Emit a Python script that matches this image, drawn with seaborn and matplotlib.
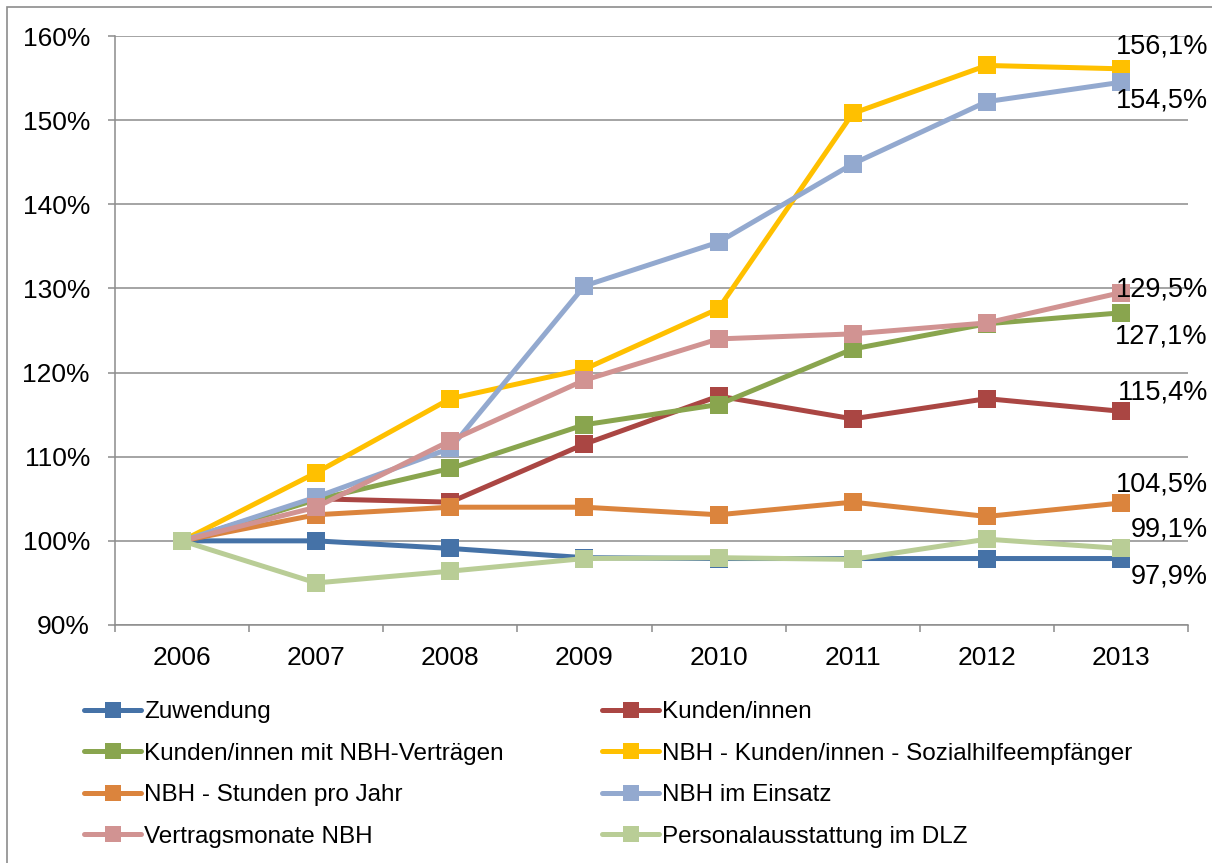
import matplotlib
matplotlib.use("Agg")
import matplotlib.pyplot as plt
from matplotlib.patches import Rectangle
from matplotlib.ticker import FixedLocator, FuncFormatter
import seaborn as sns
import pandas as pd

years = [2006, 2007, 2008, 2009, 2010, 2011, 2012, 2013]

zuwendung = [100.0, 100.0, 99.1, 98.0, 97.9, 97.9, 97.9, 97.9]
kunden = [100.0, 105.0, 104.6, 111.5, 117.2, 114.5, 116.9, 115.4]
kunden_nbh = [100.0, 104.9, 108.6, 113.8, 116.2, 122.8, 125.8, 127.1]
sozialhilfe = [100.0, 108.1, 116.9, 120.4, 127.6, 150.8, 156.5, 156.1]
stunden = [100.0, 103.1, 104.0, 104.0, 103.1, 104.6, 102.9, 104.5]
einsatz = [100.0, 105.2, 111.0, 130.3, 135.5, 144.8, 152.2, 154.5]
vertragsmonate = [100.0, 104.0, 111.9, 119.1, 124.0, 124.6, 125.9, 129.5]
personal = [100.0, 95.0, 96.4, 97.9, 98.0, 97.8, 100.2, 99.1]

series_names = [
    "Zuwendung",
    "Kunden/innen",
    "Kunden/innen mit NBH-Verträgen",
    "NBH - Kunden/innen - Sozialhilfeempfänger",
    "NBH - Stunden pro Jahr",
    "NBH im Einsatz",
    "Vertragsmonate NBH",
    "Personalausstattung im DLZ",
]
series_values = [zuwendung, kunden, kunden_nbh, sozialhilfe,
                 stunden, einsatz, vertragsmonate, personal]
series_colors = ["#4572A7", "#AA4643", "#89A54E", "#FFC000",
                 "#DB843D", "#93A9CF", "#D19392", "#B9CD96"]

# end-of-line value labels: (series index, text, vertical pixel offset)
end_labels = [
    (3, "156,1%", 22),
    (5, "154,5%", -18),
    (6, "129,5%", 3),
    (2, "127,1%", -24),
    (1, "115,4%", 19),
    (4, "104,5%", 18),
    (7, "99,1%", 19),
    (0, "97,9%", -18),
]

rows = []
for name, vals in zip(series_names, series_values):
    for y, v in zip(years, vals):
        rows.append({"Jahr": y, "Wert": v, "Reihe": name})
df = pd.DataFrame(rows)

sns.set_style("white")
plt.rcParams["font.family"] = ["Liberation Sans", "DejaVu Sans"]
plt.rcParams["text.color"] = "black"
plt.rcParams["xtick.color"] = "black"
plt.rcParams["ytick.color"] = "black"

fig = plt.figure(figsize=(12.12, 8.63), dpi=100)
ax = fig.add_axes([115 / 1212, 1 - 625 / 863, (1188 - 115) / 1212, (625 - 36) / 863])

grid_color = "#8C8C8C"
for g in range(90, 161, 10):
    ax.axhline(g, color=grid_color, lw=1.1, zorder=0)

palette = dict(zip(series_names, series_colors))
sns.lineplot(data=df, x="Jahr", y="Wert", hue="Reihe", hue_order=series_names,
             palette=palette, marker="s", markersize=13, linewidth=3.6,
             markeredgewidth=0, dashes=False, ax=ax, legend=True, zorder=3)

for idx, text, dy in end_labels:
    ax.annotate(text, xy=(years[-1], series_values[idx][-1]),
                xytext=(87, dy), textcoords="offset pixels",
                ha="right", va="center", fontsize=19.5, color="#000000",
                zorder=5, annotation_clip=False)

ax.set_xlim(2005.5, 2013.5)
ax.set_ylim(90, 160)
ax.set_xlabel("")
ax.set_ylabel("")

ax.yaxis.set_major_locator(FixedLocator(list(range(90, 161, 10))))
ax.yaxis.set_major_formatter(FuncFormatter(lambda v, p: f"{int(round(v))}%"))
ax.xaxis.set_major_locator(FixedLocator(years))
ax.xaxis.set_major_formatter(FuncFormatter(lambda v, p: f"{int(round(v))}"))
ax.xaxis.set_minor_locator(FixedLocator([y + 0.5 for y in range(2005, 2014)]))

ax.tick_params(axis="y", which="major", direction="out", length=5, width=1.1,
               color=grid_color, labelcolor="black", pad=13, labelsize=19, left=True)
ax.tick_params(axis="x", which="major", length=0, pad=15, labelsize=19,
               labelcolor="black")
ax.tick_params(axis="x", which="minor", direction="out", length=5, width=1.1,
               color=grid_color, bottom=True)

for side in ["top", "right"]:
    ax.spines[side].set_visible(False)
for side in ["left", "bottom"]:
    ax.spines[side].set_color(grid_color)
    ax.spines[side].set_linewidth(1.1)

handles, labels = ax.get_legend_handles_labels()
ax.get_legend().remove()
order = [0, 2, 4, 6, 1, 3, 5, 7]
leg = fig.legend([handles[i] for i in order], [labels[i] for i in order],
                 ncol=2, loc="upper left", bbox_to_anchor=(72 / 1212, 1 - 689 / 863),
                 frameon=False, fontsize=17.5, handlelength=2.35, handletextpad=0.12,
                 columnspacing=4.05, labelspacing=0.8, borderpad=0)
for h in leg.legend_handles:
    h.set_markersize(12)
for t in leg.get_texts():
    t.set_color("black")

fig.patches.append(Rectangle((7 / 1212, -0.01), 1.1, 1 - 7 / 863 + 0.01,
                             transform=fig.transFigure, fill=False,
                             edgecolor="#8C8C8C", lw=1.2, zorder=-1))

fig.savefig("out.png", dpi=100, facecolor="white")
